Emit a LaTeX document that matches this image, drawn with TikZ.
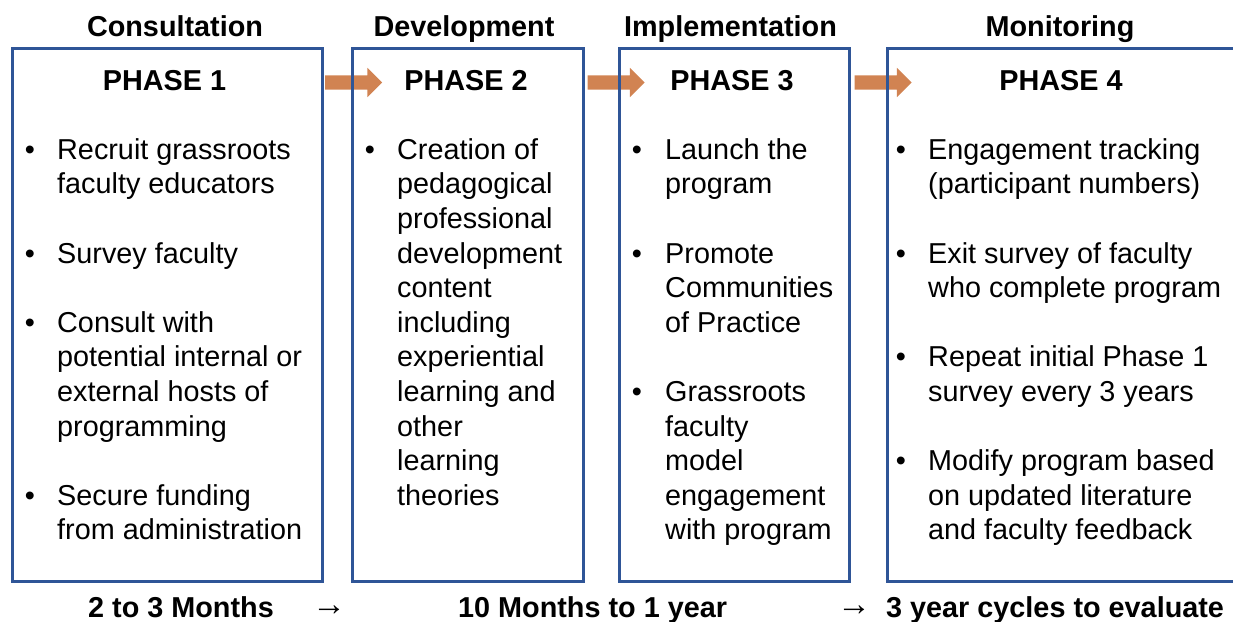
\documentclass[tikz,border=0pt]{standalone}
\usepackage{fontspec}
\setmainfont{Liberation Sans}
\usetikzlibrary{shapes.arrows}
\definecolor{phaseblue}{RGB}{47,85,151}
\definecolor{flowarrow}{RGB}{209,131,82}
% stacked lines whose baseline is that of the first line
\newcommand\itemlines[1]{\begin{tabular}[t]{@{}l@{}}#1\end{tabular}}
\begin{document}
\begin{tikzpicture}[x=1pt,y=-1pt,
  txt/.style={inner sep=0pt,font=\fontsize{28.8}{34.6}\selectfont},
  item/.style={txt,anchor=base west},
  dot/.style={txt,anchor=base},
  heading/.style={txt,anchor=base,font=\fontsize{28.8}{34.6}\selectfont\bfseries},
  timearrow/.style={txt,anchor=base,font=\fontsize{34}{36}\selectfont},
  phasebox/.style={draw=phaseblue,line width=3pt,inner sep=0pt,minimum height=533pt},
  blockarrow/.style={single arrow,fill=flowarrow,draw=none,inner xsep=0pt,
    inner ysep=7pt,minimum height=57pt,single arrow head extend=7.5pt,
    single arrow head indent=0pt}
]
\clip (0,0) rectangle (1233,621);
\fill[white] (0,0) rectangle (1233,621);

% arrows between the phases, drawn under the box borders
\node[blockarrow] (a12) at (350,82.5) {};
\node[blockarrow] (a23) at (612.5,82.5) {};
\node[blockarrow] (a34) at (879.5,82.5) {};

% phase boxes
\node[phasebox,minimum width=310pt] (b1) at (167,314.5) {};
\node[phasebox,minimum width=231pt] (b2) at (467.5,314.5) {};
\node[phasebox,minimum width=230pt] (b3) at (734,314.5) {};
\node[phasebox,minimum width=349pt] (b4) at (1061.5,314.5) {};

% stage names above the boxes
\node[heading] (h1) at (175,36.7) {Consultation};
\node[heading] (h2) at (464,36.7) {Development};
\node[heading] (h3) at (730.5,36.7) {Implementation};
\node[heading] (h4) at (1060,36.7) {Monitoring};

% phase titles
\node[heading] (p1) at (164.5,90) {PHASE 1};
\node[heading] (p2) at (466,90) {PHASE 2};
\node[heading] (p3) at (732,90) {PHASE 3};
\node[heading] (p4) at (1061,90) {PHASE 4};

% Phase 1 items
\node[dot] (d11) at (30,159.3) {•};
\node[item] (i11) at (57,159.3) {\itemlines{Recruit grassroots\\faculty educators}};
\node[dot] (d12) at (30,263.1) {•};
\node[item] (i12) at (57,263.1) {\itemlines{Survey faculty}};
\node[dot] (d13) at (30,332.3) {•};
\node[item] (i13) at (57,332.3) {\itemlines{Consult with\\potential internal or\\external hosts of\\programming}};
\node[dot] (d14) at (30,505.3) {•};
\node[item] (i14) at (57,505.3) {\itemlines{Secure funding\\from administration}};

% Phase 2 items
\node[dot] (d21) at (370,159.3) {•};
\node[item] (i21) at (397,159.3) {\itemlines{Creation of\\pedagogical\\professional\\development\\content\\including\\experiential\\learning and\\other\\learning\\theories}};

% Phase 3 items
\node[dot] (d31) at (637,159.3) {•};
\node[item] (i31) at (665,159.3) {\itemlines{Launch the\\program}};
\node[dot] (d32) at (637,263.1) {•};
\node[item] (i32) at (665,263.1) {\itemlines{Promote\\Communities\\of Practice}};
\node[dot] (d33) at (637,401.5) {•};
\node[item] (i33) at (665,401.5) {\itemlines{Grassroots\\faculty\\model\\engagement\\with program}};

% Phase 4 items
\node[dot] (d41) at (901,159.3) {•};
\node[item] (i41) at (928,159.3) {\itemlines{Engagement tracking\\(participant numbers)}};
\node[dot] (d42) at (901,263.1) {•};
\node[item] (i42) at (928,263.1) {\itemlines{Exit survey of faculty\\who complete program}};
\node[dot] (d43) at (901,366.9) {•};
\node[item] (i43) at (928,366.9) {\itemlines{Repeat initial Phase 1\\survey every 3 years}};
\node[dot] (d44) at (901,470.7) {•};
\node[item] (i44) at (928,470.7) {\itemlines{Modify program based\\on updated literature\\and faculty feedback}};

% durations along the bottom
\node[heading,anchor=base west] (t1) at (88,617) {2 to 3 Months};
\node[timearrow] (r1) at (329,615) {→};
\node[heading,anchor=base west] (t2) at (458,617) {10 Months to 1 year};
\node[timearrow] (r2) at (854,615) {→};
\node[heading,anchor=base west] (t3) at (886,617) {3 year cycles to evaluate};
\end{tikzpicture}
\end{document}
